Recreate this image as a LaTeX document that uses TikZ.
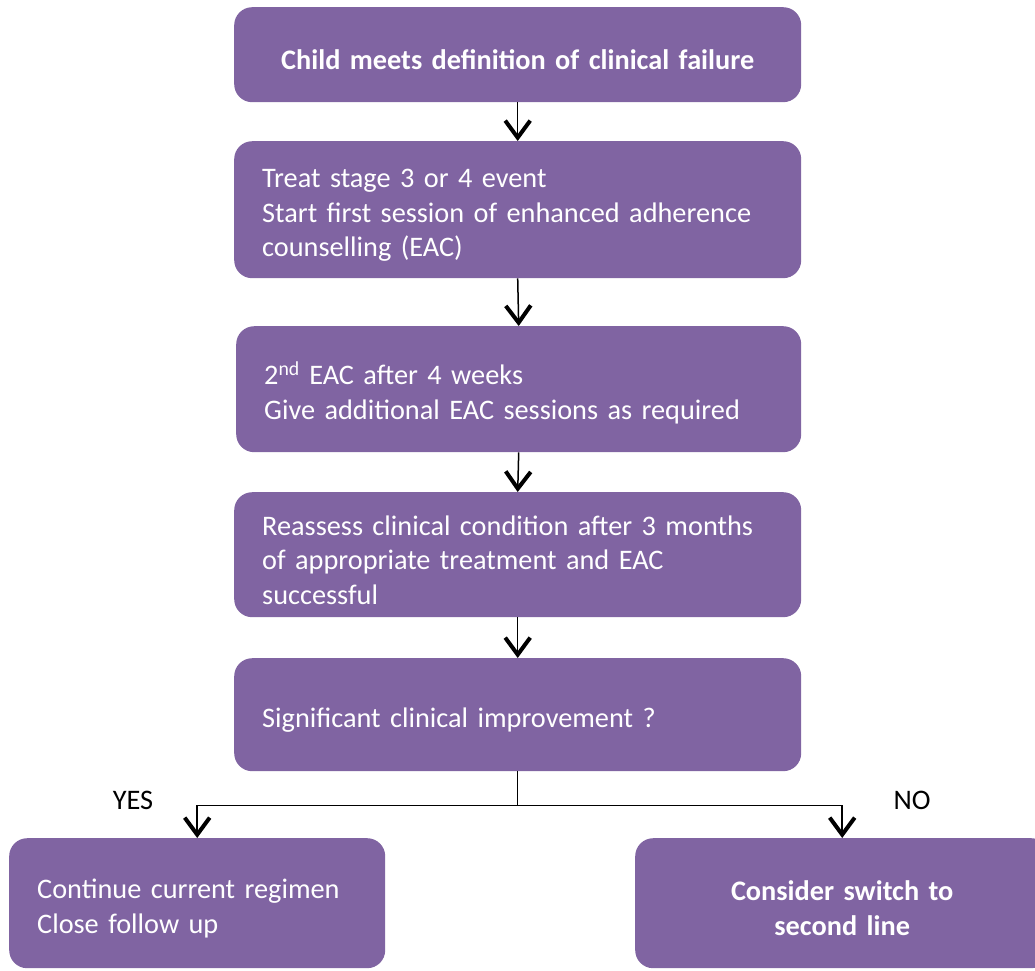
\documentclass[tikz,border=0pt]{standalone}
\usepackage{fontspec}
\setmainfont{Carlito}
\usetikzlibrary{arrows.meta}
\definecolor{boxpurple}{HTML}{8064A2}
\begin{document}
\begin{tikzpicture}[x=1pt,y=-1pt,
  box/.style={fill=boxpurple, rounded corners=18pt, text=white,
    font=\fontsize{28.3}{34.5}\selectfont, inner xsep=28pt, inner ysep=0pt,
    align=left, anchor=north west, execute at begin node={\rule{0pt}{30pt}}},
  conn/.style={line width=1.5pt, -{Straight Barb[length=17pt,width=25pt,line width=4pt]}},
  plain/.style={line width=1.5pt},
  lbl/.style={font=\fontsize{28.3}{34}\selectfont, text=black}]
\useasboundingbox (0,0) rectangle (1035,970);
\node[box, align=center, font=\bfseries\fontsize{28.3}{34.5}\selectfont, text width=511pt, minimum height=95pt] (b1) at (234,7)
  {Child meets definition of clinical failure};
\node[box, text width=511pt, minimum height=137pt] (b2) at (234,141)
  {Treat stage 3 or 4 event\\Start first session of enhanced adherence\\counselling (EAC)};
\node[box, text width=509pt, minimum height=126pt] (b3) at (236,326)
  {2\textsuperscript{nd} EAC after 4 weeks\\Give additional EAC sessions as required};
\node[box, text width=511pt, minimum height=125pt] (b4) at (234,492)
  {Reassess clinical condition after 3 months\\of appropriate treatment and EAC\\successful};
\node[box, text width=511pt, minimum height=113pt] (b5) at (234,658)
  {Significant clinical improvement ?};
\node[box, text width=320pt, minimum height=130pt] (b6) at (9,838)
  {Continue current regimen\\Close follow up};
\node[box, align=center, font=\bfseries\fontsize{28.3}{34.5}\selectfont, text width=358pt, minimum height=130pt] (b7) at (635,838)
  {Consider switch to\\second line};
\draw[conn] (b1.south) -- (b2.north);
\draw[conn] (b2.south) -- (b3.north);
\draw[conn] (b3.south) -- (b4.north);
\draw[conn] (b4.south) -- (b5.north);
\draw[plain] (b5.south) -- ++(0,34) coordinate (j);
\draw[conn] (j) -| (b6.north);
\draw[conn] (j) -| (b7.north);
\node[lbl] (yes) at (133,800) {YES};
\node[lbl] (no) at (912,800) {NO};
\end{tikzpicture}
\end{document}
